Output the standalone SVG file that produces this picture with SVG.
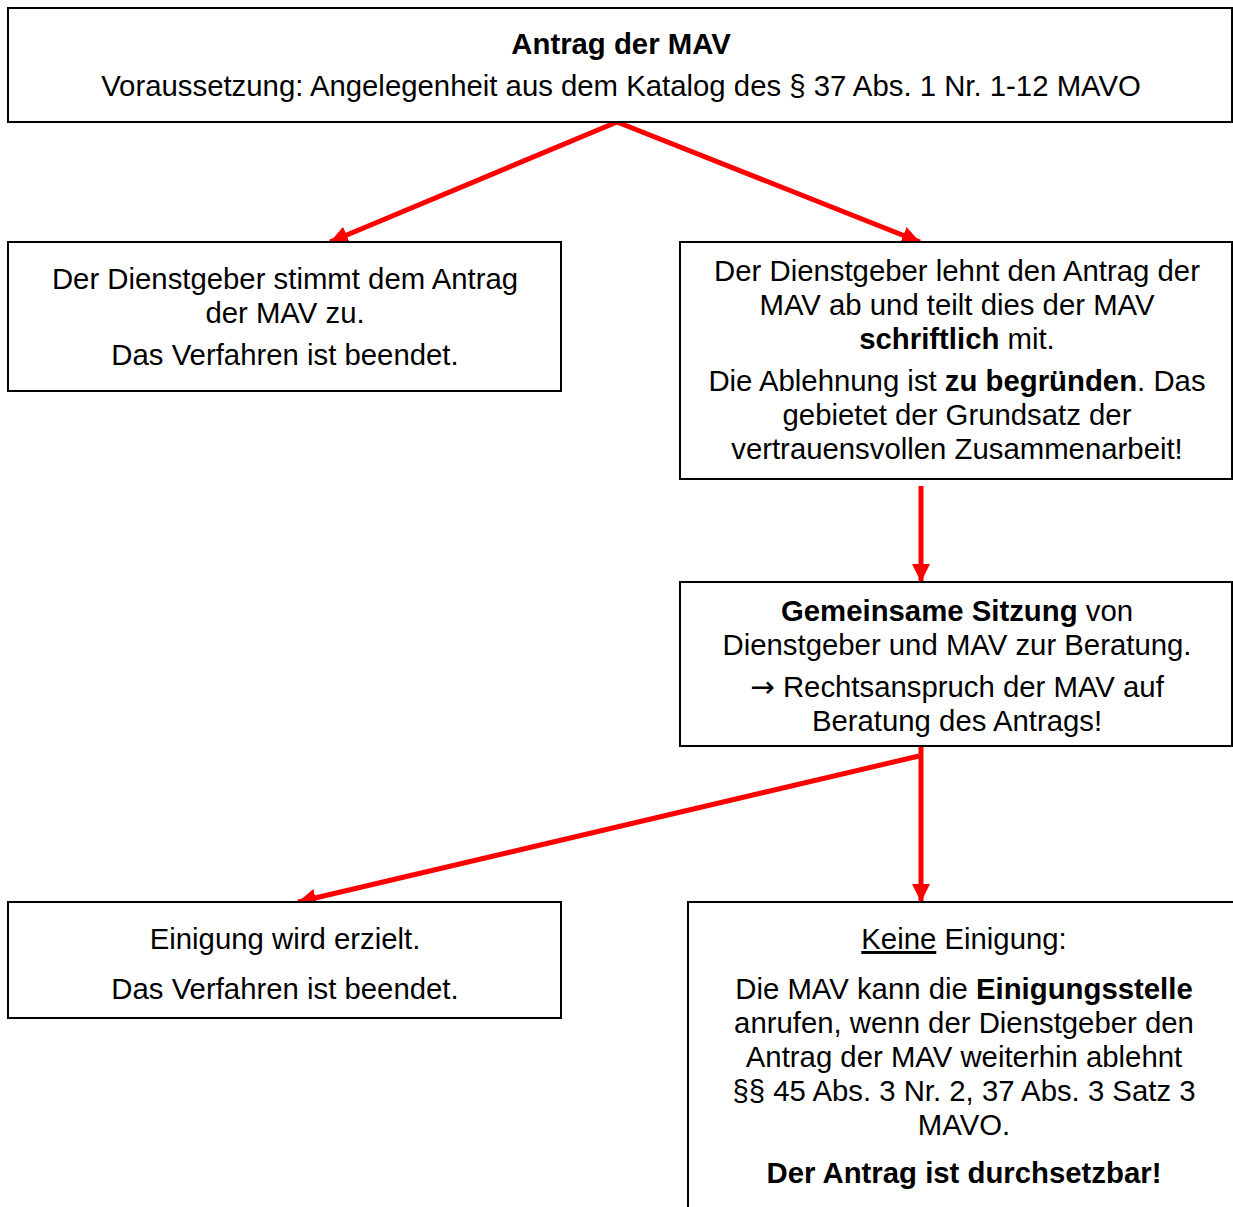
<svg xmlns="http://www.w3.org/2000/svg" width="1233" height="1207" viewBox="0 0 1233 1207">
<style>
.box{fill:#fff;stroke:#000;stroke-width:2}
text{font-family:"Liberation Sans",Arial,sans-serif;font-size:29.33px;fill:#000;text-anchor:middle}
.b{font-weight:bold}
.ar{font-family:"DejaVu Sans",sans-serif}
.c{stroke:#f00;stroke-width:5;fill:none}
</style>
<defs>
<marker id="ah" markerUnits="userSpaceOnUse" markerWidth="20" markerHeight="18" refX="18" refY="9" orient="auto">
<path d="M0,0 L18,9 L0,18 Z" fill="#f00"/>
</marker>
</defs>
<g id="connectors">
<line class="c" x1="617" y1="122" x2="330" y2="242" marker-end="url(#ah)"/>
<line class="c" x1="617" y1="122" x2="920" y2="242" marker-end="url(#ah)"/>
<line class="c" x1="921" y1="486" x2="921" y2="582" marker-end="url(#ah)"/>
<line class="c" x1="921" y1="746" x2="921" y2="902" marker-end="url(#ah)"/>
<line class="c" x1="919" y1="756" x2="298" y2="902" marker-end="url(#ah)"/>
</g>
<g id="n_antrag">
<rect class="box" x="8" y="8" width="1224" height="114"/>
<text x="621" y="54" class="b">Antrag der MAV</text>
<text x="621" y="96">Voraussetzung: Angelegenheit aus dem Katalog des § 37 Abs. 1 Nr. 1-12 MAVO</text>
</g>
<g id="n_zustimmung">
<rect class="box" x="8" y="242" width="553" height="149"/>
<text x="285" y="289">Der Dienstgeber stimmt dem Antrag</text>
<text x="285" y="323">der MAV zu.</text>
<text x="285" y="365">Das Verfahren ist beendet.</text>
</g>
<g id="n_ablehnung">
<rect class="box" x="680" y="242" width="552" height="237"/>
<text x="957" y="281">Der Dienstgeber lehnt den Antrag der</text>
<text x="957" y="315">MAV ab und teilt dies der MAV</text>
<text x="957" y="349"><tspan class="b">schriftlich</tspan> mit.</text>
<text x="957" y="391">Die Ablehnung ist <tspan class="b">zu begründen</tspan>. Das</text>
<text x="957" y="425">gebietet der Grundsatz der</text>
<text x="957" y="459">vertrauensvollen Zusammenarbeit!</text>
</g>
<g id="n_sitzung">
<rect class="box" x="680" y="582" width="552" height="164"/>
<text x="957" y="621"><tspan class="b">Gemeinsame Sitzung</tspan> von</text>
<text x="957" y="655">Dienstgeber und MAV zur Beratung.</text>
<text x="957" y="697"><tspan class="ar">→</tspan> Rechtsanspruch der MAV auf</text>
<text x="957" y="731">Beratung des Antrags!</text>
</g>
<g id="n_einigung">
<rect class="box" x="8" y="902" width="553" height="116"/>
<text x="285" y="949">Einigung wird erzielt.</text>
<text x="285" y="999">Das Verfahren ist beendet.</text>
</g>
<g id="n_keine">
<rect class="box" x="688" y="902" width="560" height="330"/>
<text x="964" y="949"><tspan text-decoration="underline">Keine</tspan> Einigung:</text>
<text x="964" y="999">Die MAV kann die <tspan class="b">Einigungsstelle</tspan></text>
<text x="964" y="1033">anrufen, wenn der Dienstgeber den</text>
<text x="964" y="1067">Antrag der MAV weiterhin ablehnt</text>
<text x="964" y="1101">§§ 45 Abs. 3 Nr. 2, 37 Abs. 3 Satz 3</text>
<text x="964" y="1135">MAVO.</text>
<text x="964" y="1183" class="b">Der Antrag ist durchsetzbar!</text>
</g>
</svg>
